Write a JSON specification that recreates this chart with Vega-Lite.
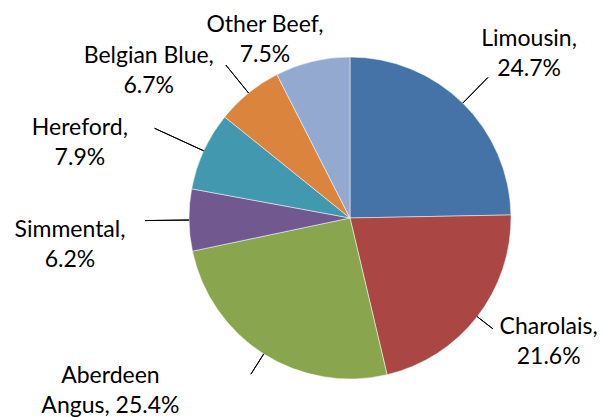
{
  "$schema": "https://vega.github.io/schema/vega-lite/v6.json",
  "autosize": {"type": "none"},
  "width": 506,
  "height": 400,
  "padding": {"left": 97, "top": 18, "right": 0, "bottom": 0},
  "background": "white",
  "view": {"stroke": null},
  "data": {
    "values": [
      {"rank": 1, "category": "Limousin", "share": 24.7},
      {"rank": 2, "category": "Charolais", "share": 21.6},
      {"rank": 3, "category": "Aberdeen Angus", "share": 25.4},
      {"rank": 4, "category": "Simmental", "share": 6.2},
      {"rank": 5, "category": "Hereford", "share": 7.9},
      {"rank": 6, "category": "Belgian Blue", "share": 6.7},
      {"rank": 7, "category": "Other Beef", "share": 7.5}
    ]
  },
  "transform": [
    {"calculate": "datum.category === 'Aberdeen Angus' ? 'Aberdeen\\nAngus, ' + format(datum.share, '.1f') + '%' : datum.category + ',\\n' + format(datum.share, '.1f') + '%'", "as": "label"}
  ],
  "encoding": {
    "theta": {"field": "share", "type": "quantitative", "stack": true},
    "order": {"field": "rank", "type": "quantitative"}
  },
  "layer": [
    {
      "mark": {"type": "arc", "outerRadius": 161, "stroke": "#ffffff", "strokeWidth": 0.5},
      "encoding": {
        "color": {
          "field": "category",
          "type": "nominal",
          "legend": null,
          "scale": {
            "domain": ["Limousin", "Charolais", "Aberdeen Angus", "Simmental", "Hereford", "Belgian Blue", "Other Beef"],
            "range": ["#4572A7", "#AA4643", "#89A54E", "#71588F", "#4198AF", "#DB843D", "#93A9CF"]
          }
        }
      }
    },
    {
      "mark": {
        "type": "arc",
        "innerRadius": 161,
        "outerRadius": {"expr": "datum.category === 'Limousin' ? 197 : datum.category === 'Charolais' ? 181 : datum.category === 'Aberdeen Angus' ? 185 : datum.category === 'Simmental' ? 205 : datum.category === 'Hereford' ? 215 : 197"},
        "padAngle": 1.6,
        "fill": "#000000",
        "fillOpacity": 0,
        "stroke": "#000000",
        "strokeWidth": 1,
        "strokeOpacity": {"expr": "datum.category === 'Other Beef' ? 0 : 1"}
      }
    },
    {
      "mark": {
        "type": "text",
        "radius": 240,
        "font": "Lato",
        "fontSize": 23,
        "lineBreak": "\n",
        "lineHeight": 30,
        "align": "center",
        "baseline": "middle",
        "color": "#000000",
        "dx": {"expr": "datum.category === 'Limousin' ? 11 : datum.category === 'Charolais' ? 9 : datum.category === 'Aberdeen Angus' ? -111 : datum.category === 'Simmental' ? -40 : datum.category === 'Hereford' ? -52 : datum.category === 'Belgian Blue' ? -50 : -29"},
        "dy": {"expr": "datum.category === 'Limousin' ? -8 : datum.category === 'Charolais' ? -38 : datum.category === 'Aberdeen Angus' ? -45 : datum.category === 'Simmental' ? 9 : datum.category === 'Hereford' ? 10 : datum.category === 'Belgian Blue' ? 24 : 40"}
      },
      "encoding": {
        "text": {"field": "label", "type": "nominal"}
      }
    }
  ]
}
